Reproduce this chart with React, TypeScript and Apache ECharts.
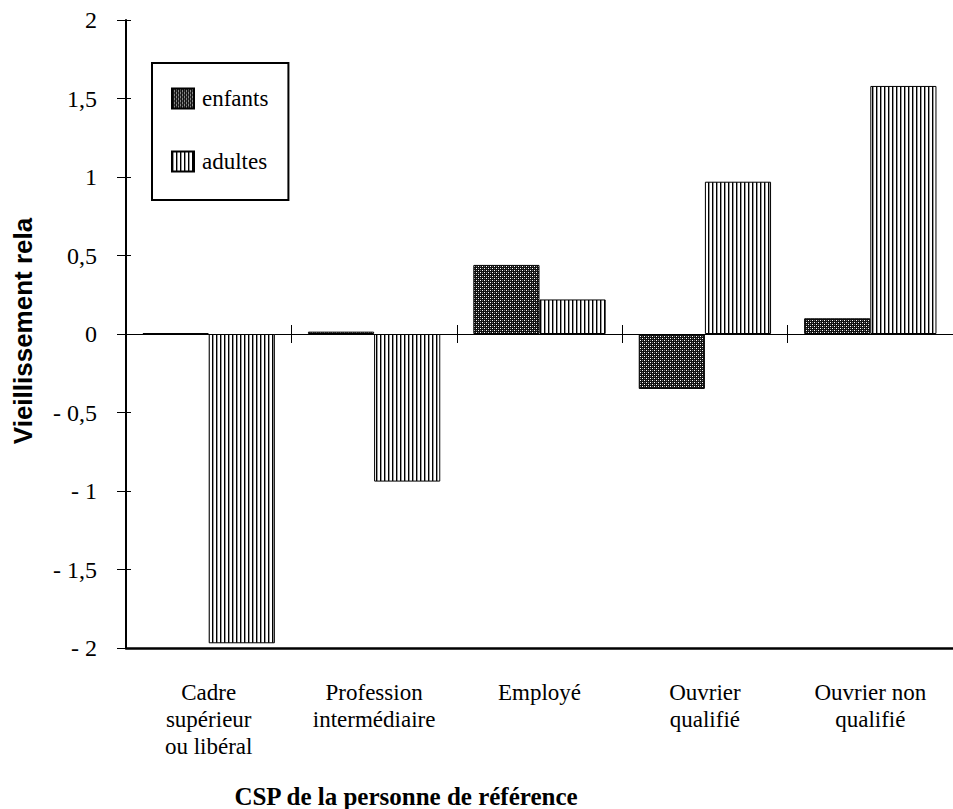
import React, { useEffect, useRef } from "react";
import * as echarts from "echarts";

const categories = [
  "Cadre\nsupérieur\nou libéral",
  "Profession\nintermédiaire",
  "Employé",
  "Ouvrier\nqualifié",
  "Ouvrier non\nqualifié",
];
const enfants = [0.005, 0.015, 0.44, -0.35, 0.1];
const adultes = [-1.97, -0.94, 0.22, 0.97, 1.58];
const seriesNames = ["enfants", "adultes"];
const yTicks = { min: -2, max: 2, interval: 0.5 };
const xTitle = "CSP de la personne de référence";
const yTitle = "Vieillissement rela";

const SERIF = "Liberation Serif";
const SANS = "Liberation Sans";

function makeStipple(): HTMLCanvasElement {
  const c = document.createElement("canvas");
  c.width = 4;
  c.height = 4;
  const ctx = c.getContext("2d")!;
  ctx.fillStyle = "#111";
  ctx.fillRect(0, 0, 4, 4);
  ctx.fillStyle = "#fff";
  ctx.fillRect(0, 0, 1, 1);
  ctx.fillRect(2, 2, 1, 1);
  ctx.fillStyle = "#777";
  ctx.fillRect(2, 0, 1, 1);
  ctx.fillRect(0, 2, 1, 1);
  return c;
}

function makeStripes(): HTMLCanvasElement {
  const c = document.createElement("canvas");
  c.width = 4;
  c.height = 4;
  const ctx = c.getContext("2d")!;
  ctx.fillStyle = "#fff";
  ctx.fillRect(0, 0, 4, 4);
  ctx.fillStyle = "#000";
  ctx.fillRect(0, 0, 1, 4);
  ctx.fillStyle = "#999";
  ctx.fillRect(1, 0, 1, 4);
  return c;
}

const fmtY = (v: number) =>
  (v < 0 ? "- " : "") + String(Math.abs(v)).replace(".", ",");

export default function App() {
  const ref = useRef<HTMLDivElement>(null);
  useEffect(() => {
    if (!ref.current) return;
    const chart = echarts.init(ref.current, undefined, { renderer: "svg" });
    const stipple = { image: makeStipple(), repeat: "repeat" } as any;
    const stripes = { image: makeStripes(), repeat: "repeat" } as any;
    const grid = { left: 126, top: 20, width: 835, height: 628 };
    chart.setOption({
      animation: false,
      backgroundColor: "#fff",
      textStyle: { fontFamily: SERIF },
      grid,
      legend: {
        left: 152,
        top: 63,
        orient: "vertical",
        data: seriesNames,
        backgroundColor: "#fff",
        borderColor: "#000",
        borderWidth: 2,
        borderRadius: 0,
        padding: [24, 20, 27, 19],
        itemWidth: 22,
        itemHeight: 20,
        itemGap: 40,
        icon: "rect",
        textStyle: { fontFamily: SERIF, fontSize: 23, color: "#000", padding: [0, 0, 0, 3] },
      },
      xAxis: [
        {
          type: "category",
          data: categories,
          position: "bottom",
          axisLine: { onZero: false, lineStyle: { color: "#000", width: 2.5 } },
          axisTick: { show: false },
          axisLabel: {
            interval: 0,
            margin: 31,
            fontFamily: SERIF,
            fontSize: 23,
            lineHeight: 27,
            color: "#000",
          },
        },
        {
          type: "category",
          data: categories,
          position: "bottom",
          axisLine: { onZero: true, lineStyle: { color: "#000", width: 1 } },
          axisTick: { show: true, length: 9, lineStyle: { color: "#000", width: 1 } },
          axisLabel: { show: false },
        },
        {
          type: "category",
          data: categories,
          position: "bottom",
          axisLine: { onZero: true, show: false },
          axisTick: { show: true, inside: true, length: 9, lineStyle: { color: "#000", width: 1 } },
          axisLabel: { show: false },
        },
      ],
      yAxis: [
        {
          type: "value",
          min: yTicks.min,
          max: yTicks.max,
          interval: yTicks.interval,
          position: "left",
          axisLine: { show: true, onZero: false, lineStyle: { color: "#000", width: 2 } },
          axisTick: { show: true, length: 9, lineStyle: { color: "#000", width: 1 } },
          splitLine: { show: false },
          axisLabel: {
            formatter: fmtY,
            margin: 29,
            fontFamily: SERIF,
            fontSize: 24,
            color: "#000",
          },
        },
        {
          type: "value",
          min: yTicks.min,
          max: yTicks.max,
          interval: yTicks.interval,
          position: "left",
          offset: 0,
          axisLine: { show: false, onZero: false },
          axisTick: { show: true, inside: true, length: 5, lineStyle: { color: "#000", width: 1 } },
          splitLine: { show: false },
          axisLabel: { show: false },
        },
      ],
      series: [
        {
          name: seriesNames[0],
          type: "bar",
          data: enfants,
          barGap: "0%",
          barCategoryGap: "20%",
          itemStyle: { color: stipple, borderColor: "#000", borderWidth: 1 },
        },
        {
          name: seriesNames[1],
          type: "bar",
          data: adultes,
          barGap: "0%",
          barCategoryGap: "20%",
          itemStyle: { color: stripes, borderColor: "#000", borderWidth: 1 },
        },
      ],
      graphic: [
        {
          type: "text",
          x: 406,
          y: 796,
          style: {
            text: xTitle,
            fontFamily: SERIF,
            fontWeight: "bold",
            fontSize: 25,
            fill: "#000",
            align: "center",
            verticalAlign: "middle",
          },
        },
        {
          type: "text",
          x: 23,
          y: 331,
          rotation: Math.PI / 2,
          style: {
            text: yTitle,
            fontFamily: SANS,
            fontWeight: "bold",
            fontSize: 26,
            fill: "#000",
            align: "center",
            verticalAlign: "middle",
          },
        },
      ],
    });
    return () => chart.dispose();
  }, []);
  return (
    <div
      ref={ref}
      style={{ position: "absolute", left: 0, top: 0, width: 953, height: 809 }}
    />
  );
}
